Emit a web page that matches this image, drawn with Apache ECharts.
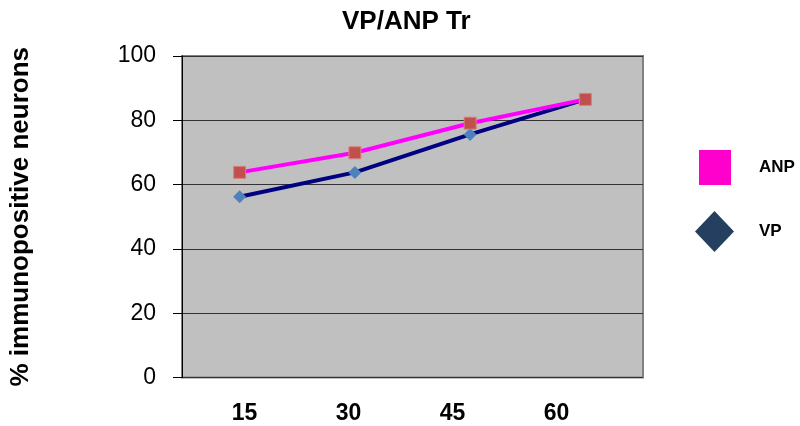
<!DOCTYPE html>
<html>
<head>
<meta charset="utf-8">
<title>VP/ANP Tr</title>
<script src="https://cdn.jsdelivr.net/npm/echarts@6/dist/echarts.min.js"></script>
<style>
  html, body { margin: 0; padding: 0; background: #fff; }
  #chart { width: 800px; height: 426px; }
</style>
</head>
<body>
<div id="chart"></div>
<script>
// data
const categories = ['15', '30', '45', '60']
const anpValues = [63.8, 69.9, 79.1, 86.5]
const vpValues = [56.2, 63.8, 75.6, 86.5]
const yTicks = { min: 0, max: 100, interval: 20 }

const font = "'Liberation Sans', Arial, sans-serif"

const chart = echarts.init(document.getElementById('chart'))

chart.setOption({
  animation: false,
  backgroundColor: '#ffffff',
  title: {
    text: 'VP/ANP Tr',
    left: 342,
    top: 9,
    padding: 0,
    textStyle: { fontFamily: font, fontSize: 26, fontWeight: 'bold', color: '#000' }
  },
  legend: [
    {
      data: [{ name: 'ANP', icon: 'rect', itemStyle: { color: '#FF00CC', borderWidth: 0 } }],
      left: 699,
      top: 150,
      padding: 0,
      itemWidth: 32,
      itemHeight: 35,
      selectedMode: false,
      textStyle: { fontFamily: font, fontSize: 17, fontWeight: 'bold', color: '#000', padding: [0, 0, 4, 23] }
    },
    {
      data: [{ name: 'VP', icon: 'diamond', itemStyle: { color: '#243F60', borderWidth: 0 } }],
      left: 695,
      top: 211,
      padding: 0,
      itemWidth: 39,
      itemHeight: 41,
      selectedMode: false,
      textStyle: { fontFamily: font, fontSize: 17, fontWeight: 'bold', color: '#000', padding: [0, 0, 4, 20] }
    }
  ],
  grid: [
    // plot area
    {
      left: 179, right: 157, top: 56, bottom: 48.5,
      show: true,
      backgroundColor: '#C0C0C0',
      borderColor: '#808080',
      borderWidth: 2
    },
    // category labels sit on their own, narrower band in the original
    { left: 192.5, width: 416, top: 56, bottom: 48.5, show: false }
  ],
  xAxis: [
    {
      type: 'category',
      gridIndex: 0,
      data: categories,
      boundaryGap: true,
      axisLine: { show: false },
      axisTick: { show: false },
      axisLabel: { show: false },
      splitLine: { show: false }
    },
    {
      type: 'category',
      gridIndex: 1,
      data: categories,
      boundaryGap: true,
      axisLine: { show: false },
      axisTick: { show: false },
      splitLine: { show: false },
      axisLabel: { margin: 25, fontFamily: font, fontSize: 23, fontWeight: 'bold', color: '#000' }
    }
  ],
  yAxis: [
    {
      type: 'value',
      gridIndex: 0,
      min: yTicks.min,
      max: yTicks.max,
      interval: yTicks.interval,
      name: '% immunopositive neurons',
      nameLocation: 'middle',
      nameRotate: 90,
      nameGap: 148,
      nameTextStyle: { fontFamily: font, fontSize: 26, fontWeight: 'bold', color: '#000' },
      axisLine: { show: true, lineStyle: { color: '#000', width: 1 } },
      axisTick: { show: true, inside: false, length: 9, lineStyle: { color: '#000' } },
      axisLabel: { margin: 26, fontFamily: font, fontSize: 23, color: '#000' },
      splitLine: { show: true, lineStyle: { color: '#333', width: 1 } }
    },
    { type: 'value', gridIndex: 1, show: false, min: 0, max: 100 }
  ],
  series: [
    {
      name: 'VP',
      type: 'line',
      xAxisIndex: 0,
      yAxisIndex: 0,
      data: vpValues,
      symbol: 'diamond',
      symbolSize: 13,
      showAllSymbol: true,
      lineStyle: { color: '#000080', width: 4 },
      itemStyle: { color: '#4F81BD', borderWidth: 0 },
      z: 3
    },
    {
      name: 'ANP',
      type: 'line',
      xAxisIndex: 0,
      yAxisIndex: 0,
      data: anpValues,
      symbol: 'rect',
      symbolSize: 12,
      showAllSymbol: true,
      lineStyle: { color: '#FF00FF', width: 4 },
      itemStyle: { color: '#C0504D', borderColor: '#D9807E', borderWidth: 1 },
      z: 4
    }
  ]
})

window.addEventListener('resize', () => chart.resize())
</script>
</body>
</html>
